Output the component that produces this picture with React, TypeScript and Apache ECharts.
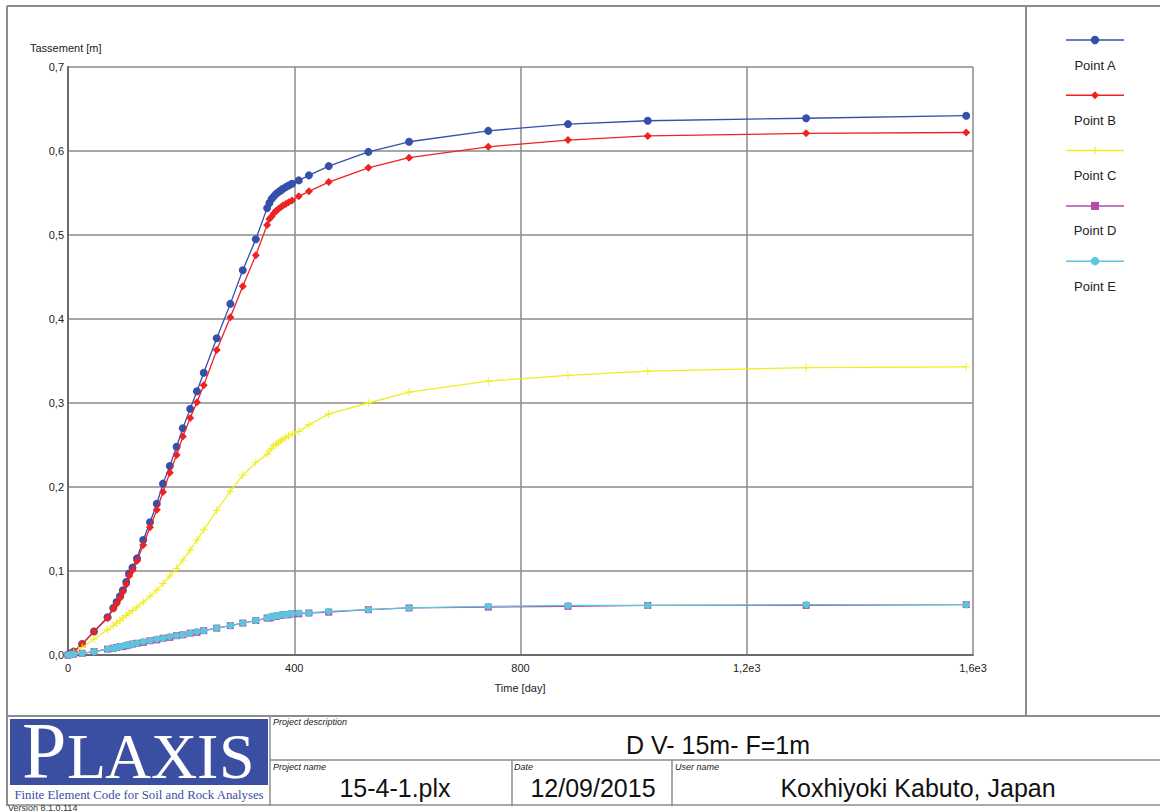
import React, { useEffect, useRef } from "react";
import * as echarts from "echarts";

const TIME = [0, 5, 10, 25, 46, 70, 80, 86, 92, 97, 103, 108, 114, 122, 133, 145, 157, 168, 180, 192, 203, 216, 228, 240, 263, 287, 309, 332, 352, 356, 360, 364, 368, 372, 376, 380, 385, 390, 396, 408, 426, 461, 531, 603, 743, 884, 1025, 1305, 1588];

const POINT_A = [0, 0.002, 0.004, 0.013, 0.028, 0.045, 0.056, 0.063, 0.070, 0.077, 0.087, 0.097, 0.104, 0.115, 0.137, 0.158, 0.180, 0.204, 0.225, 0.248, 0.270, 0.293, 0.314, 0.336, 0.377, 0.418, 0.458, 0.495, 0.532, 0.538, 0.543, 0.546, 0.549, 0.551, 0.553, 0.555, 0.557, 0.559, 0.561, 0.565, 0.571, 0.582, 0.599, 0.611, 0.624, 0.632, 0.636, 0.639, 0.642];

const POINT_B = [0, 0.002, 0.004, 0.013, 0.028, 0.044, 0.055, 0.061, 0.068, 0.075, 0.084, 0.094, 0.101, 0.112, 0.131, 0.152, 0.173, 0.194, 0.217, 0.238, 0.260, 0.282, 0.301, 0.321, 0.363, 0.402, 0.439, 0.476, 0.512, 0.519, 0.522, 0.526, 0.529, 0.531, 0.533, 0.535, 0.537, 0.539, 0.541, 0.546, 0.552, 0.563, 0.580, 0.592, 0.605, 0.613, 0.618, 0.621, 0.622];

const POINT_C = [0, 0.001, 0.003, 0.009, 0.019, 0.030, 0.035, 0.038, 0.041, 0.044, 0.047, 0.050, 0.053, 0.057, 0.063, 0.070, 0.077, 0.085, 0.094, 0.103, 0.113, 0.125, 0.137, 0.149, 0.172, 0.195, 0.214, 0.229, 0.239, 0.243, 0.246, 0.249, 0.251, 0.253, 0.255, 0.257, 0.259, 0.261, 0.263, 0.266, 0.274, 0.287, 0.300, 0.313, 0.326, 0.333, 0.338, 0.342, 0.343];

const POINT_D = [0, 0.0005, 0.001, 0.002, 0.004, 0.007, 0.008, 0.009, 0.010, 0.010, 0.011, 0.012, 0.013, 0.014, 0.015, 0.017, 0.018, 0.020, 0.021, 0.023, 0.024, 0.026, 0.027, 0.029, 0.032, 0.035, 0.038, 0.041, 0.044, 0.044, 0.045, 0.046, 0.046, 0.047, 0.047, 0.048, 0.048, 0.048, 0.049, 0.049, 0.050, 0.051, 0.054, 0.056, 0.057, 0.058, 0.059, 0.059, 0.060];

const POINT_E = [0, 0.0005, 0.001, 0.002, 0.004, 0.007, 0.008, 0.009, 0.010, 0.011, 0.012, 0.012, 0.013, 0.014, 0.016, 0.017, 0.019, 0.020, 0.022, 0.023, 0.024, 0.026, 0.028, 0.029, 0.032, 0.035, 0.038, 0.041, 0.044, 0.045, 0.046, 0.046, 0.047, 0.047, 0.048, 0.048, 0.048, 0.049, 0.049, 0.050, 0.050, 0.052, 0.054, 0.056, 0.058, 0.059, 0.059, 0.060, 0.060];

const SERIES_NAMES = ["Point A", "Point B", "Point C", "Point D", "Point E"];
const SERIES_VALUES = [POINT_A, POINT_B, POINT_C, POINT_D, POINT_E];
const SERIES_COLORS = ["#3450a8", "#ee2222", "#eeee22", "#b44aa8", "#5cc6dc"];
const PLUS = "path://M4.4,0H5.6V4.4H10V5.6H5.6V10H4.4V5.6H0V4.4H4.4Z";
const SERIES_SYMBOLS = ["circle", "diamond", PLUS, "rect", "circle"];
const SERIES_SIZES = [8, 8, 8, 7, 7];

const X_MIN = 0, X_MAX = 1600, X_STEP = 400;
const Y_MIN = 0, Y_MAX = 0.7, Y_STEP = 0.1;

const Y_NAME = "Tassement [m]";
const X_NAME = "Time [day]";
const PROJECT_DESCRIPTION = "D V- 15m- F=1m";
const PROJECT_NAME = "15-4-1.plx";
const DATE = "12/09/2015";
const USER_NAME = "Koxhiyoki Kabuto, Japan";

const SANS = "'Liberation Sans', Arial, sans-serif";
const SERIF = "'Liberation Serif', 'Times New Roman', serif";

function fmtX(v: number): string {
  if (v >= 1000) return (v / 1000).toFixed(1).replace(".", ",") + "e3";
  return String(Math.round(v));
}
function fmtY(v: number): string {
  return v.toFixed(1).replace(".", ",");
}

export default function App() {
  const ref = useRef<HTMLDivElement>(null);
  useEffect(() => {
    if (!ref.current) return;
    const chart = echarts.init(ref.current, null, { renderer: "svg" });
    const frame = "#8c8c8c";
    const g: any[] = [];
    const line = (x1: number, y1: number, x2: number, y2: number, w = 2, c = frame) =>
      g.push({ type: "line", silent: true, shape: { x1, y1, x2, y2 }, style: { stroke: c, lineWidth: w } });
    // outer frame
    line(7, 6, 1160, 6);
    line(7, 6, 7, 806);
    line(1026, 6, 1026, 716);
    line(7, 716, 1160, 716);
    line(270, 760, 1160, 760, 1.5);
    line(270, 716, 270, 806, 1.5);
    line(512, 760, 512, 806, 1.5);
    line(672, 760, 672, 806, 1.5);
    line(7, 805, 1160, 805, 1.5);
    // logo
    g.push({ type: "rect", silent: true, shape: { x: 10, y: 719, width: 258, height: 66 }, style: { fill: "#3a4fa2" } });
    const letters = [
      { t: "P", x: 22, fs: 80 },
      { t: "L", x: 67, fs: 64 },
      { t: "A", x: 105, fs: 64 },
      { t: "X", x: 151, fs: 64 },
      { t: "I", x: 197, fs: 64 },
      { t: "S", x: 219, fs: 64 },
    ];
    letters.forEach((l) =>
      g.push({
        type: "text",
        silent: true,
        style: {
          x: l.x,
          y: 779 - 0.35 * l.fs,
          text: l.t,
          font: `${l.fs}px ${SERIF}`,
          lineHeight: Math.round(l.fs * 0.7),
          fill: "#ffffff",
          align: "left",
          verticalAlign: "middle",
        },
      })
    );
    g.push({
      type: "text", silent: true,
      style: { x: 139, y: 795, text: "Finite Element Code for Soil and Rock Analyses", font: `12.8px ${SERIF}`, fill: "#3a4fa2", align: "center", verticalAlign: "middle" },
    });
    g.push({
      type: "text", silent: true,
      style: { x: 8, y: 808, text: "Version 8.1.0.114", font: `9px ${SANS}`, fill: "#333", align: "left", verticalAlign: "middle" },
    });
    const small = (x: number, y: number, t: string) =>
      g.push({ type: "text", silent: true, style: { x, y, text: t, font: `italic 9px ${SANS}`, fill: "#222", align: "left", verticalAlign: "middle" } });
    small(273, 722, "Project description");
    small(273, 767, "Project name");
    small(514, 767, "Date");
    small(675, 767, "User name");
    const big = (x: number, y: number, t: string) =>
      g.push({ type: "text", silent: true, style: { x, y, text: t, font: `25px ${SANS}`, fill: "#111", align: "center", verticalAlign: "middle" } });
    big(718, 745, PROJECT_DESCRIPTION);
    big(395, 788, PROJECT_NAME);
    big(593, 788, DATE);
    big(918, 788, USER_NAME);
    // axis titles
    g.push({ type: "text", silent: true, style: { x: 30, y: 48, text: Y_NAME, font: `11px ${SANS}`, fill: "#222", align: "left", verticalAlign: "middle" } });
    g.push({ type: "text", silent: true, style: { x: 520, y: 688, text: X_NAME, font: `11px ${SANS}`, fill: "#222", align: "center", verticalAlign: "middle" } });
    // legend
    SERIES_NAMES.forEach((name, i) => {
      const y = 40 + i * 55.3;
      line(1066, y, 1124, y, 1.5, SERIES_COLORS[i]);
      const c = SERIES_COLORS[i];
      if (i === 0 || i === 4) g.push({ type: "circle", silent: true, shape: { cx: 1095, cy: y, r: 4.2 }, style: { fill: c } });
      if (i === 1) g.push({ type: "polygon", silent: true, shape: { points: [[1095, y - 4], [1099, y], [1095, y + 4], [1091, y]] }, style: { fill: c } });
      if (i === 2) line(1095, y - 4, 1095, y + 4, 1.2, c);
      if (i === 3) g.push({ type: "rect", silent: true, shape: { x: 1091, y: y - 4, width: 8, height: 8 }, style: { fill: c } });
      g.push({ type: "text", silent: true, style: { x: 1095, y: y + 25, text: name, font: `13px ${SANS}`, fill: "#222", align: "center", verticalAlign: "middle" } });
    });

    chart.setOption({
      animation: false,
      backgroundColor: "#ffffff",
      grid: { left: 68, top: 67, width: 905, height: 588, containLabel: false },
      xAxis: {
        type: "value",
        min: X_MIN,
        max: X_MAX,
        interval: X_STEP,
        axisLine: { show: true, onZero: false, lineStyle: { color: "#6a6a6a", width: 2 } },
        axisTick: { show: false },
        axisLabel: { formatter: fmtX, color: "#222", fontSize: 11, fontFamily: SANS, margin: 7 },
        splitLine: { show: true, lineStyle: { color: "#8a8a8a", width: 1.5 } },
      },
      yAxis: {
        type: "value",
        min: Y_MIN,
        max: Y_MAX,
        interval: Y_STEP,
        axisLine: { show: true, onZero: false, lineStyle: { color: "#6a6a6a", width: 2 } },
        axisTick: { show: false },
        axisLabel: { formatter: fmtY, color: "#222", fontSize: 11, fontFamily: SANS, margin: 4 },
        splitLine: { show: true, lineStyle: { color: "#8a8a8a", width: 1.5 } },
      },
      series: SERIES_NAMES.map((name, i) => ({
        name,
        type: "line",
        data: TIME.map((t, k) => [t, SERIES_VALUES[i][k]]),
        symbol: SERIES_SYMBOLS[i],
        symbolSize: SERIES_SIZES[i],
        showAllSymbol: true,
        lineStyle: { color: SERIES_COLORS[i], width: 1.3 },
        itemStyle: { color: SERIES_COLORS[i], borderWidth: 0 },
        z: 2 + i,
      })),
      graphic: g,
    });
    return () => chart.dispose();
  }, []);
  return <div ref={ref} style={{ position: "absolute", left: 0, top: 0, width: 1160, height: 812, background: "#fff" }} />;
}
